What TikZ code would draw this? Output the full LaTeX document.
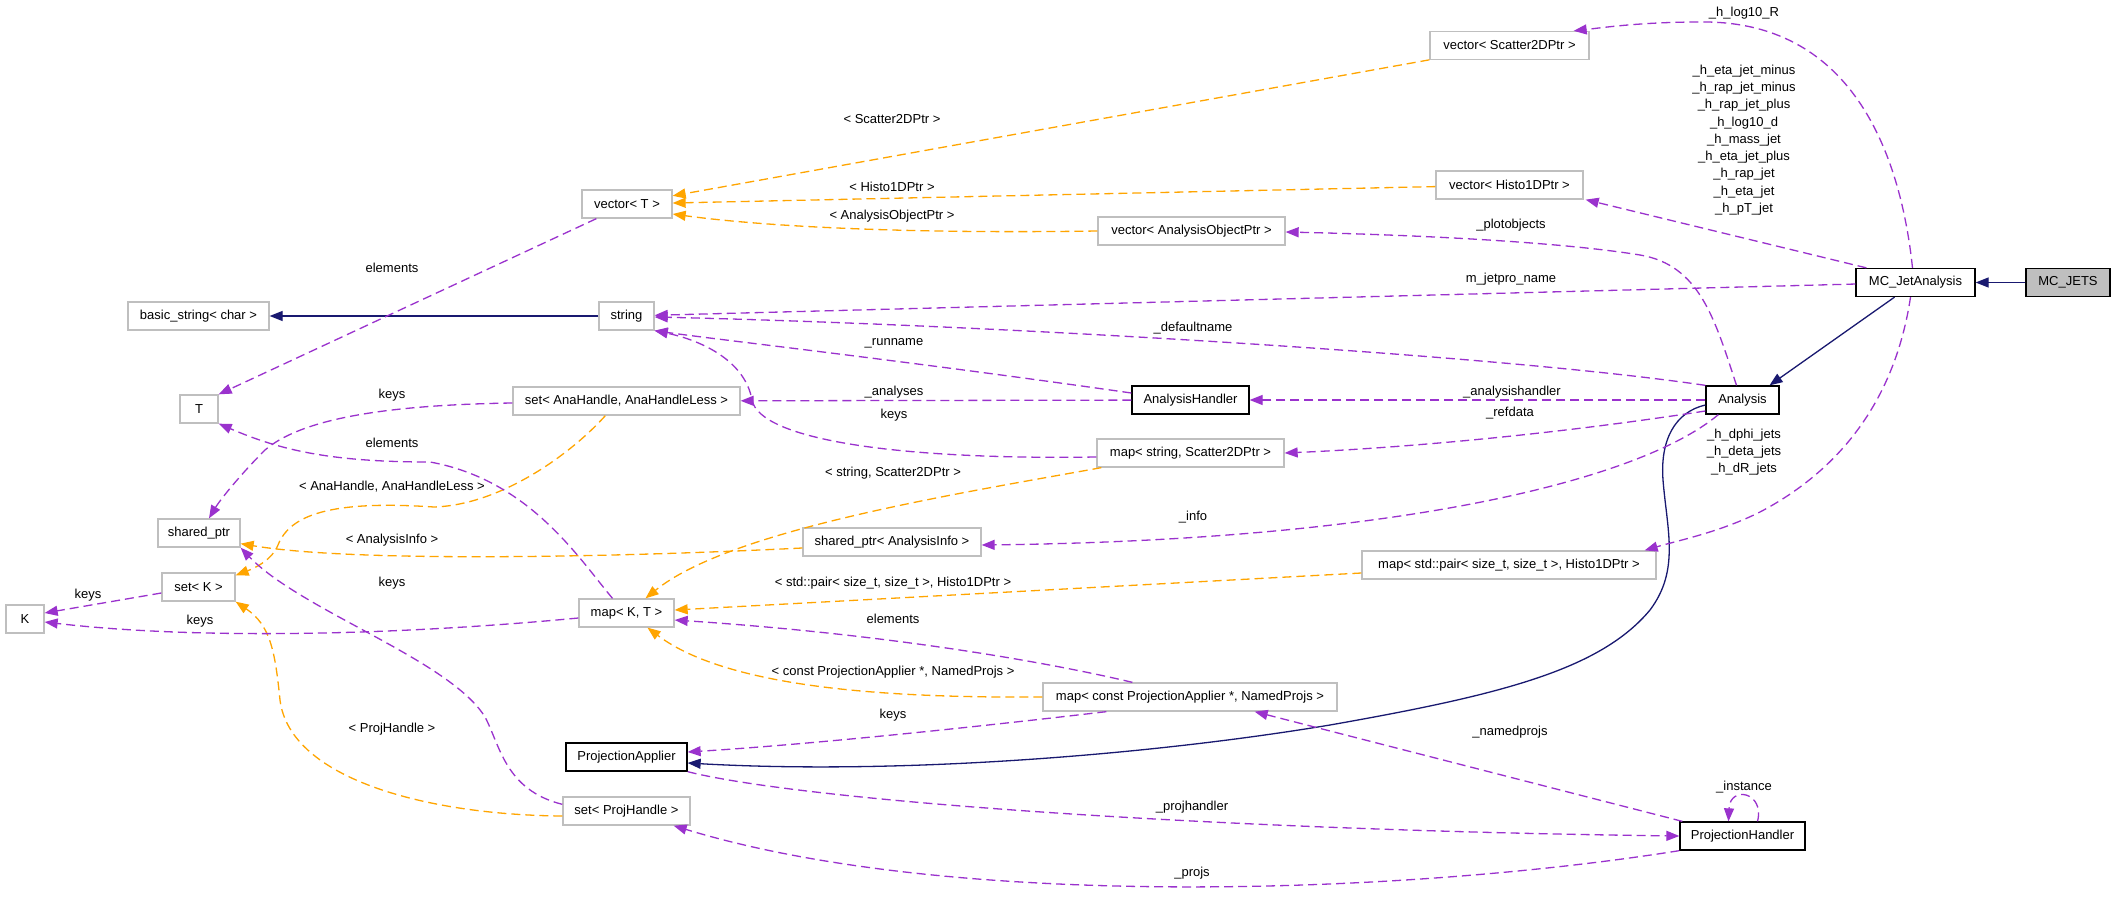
\documentclass[tikz,border=0pt]{standalone}
\usepackage{fontspec}
\setmainfont{Liberation Sans}
\usetikzlibrary{arrows.meta,calc}
\definecolor{purp}{HTML}{9A32CD}
\definecolor{orng}{HTML}{FFA500}
\definecolor{midblue}{HTML}{191970}
\definecolor{nodegray}{HTML}{BFBFBF}
\newcommand\dgfont{\fontsize{13}{17.25}\selectfont}
\tikzset{
  box/.style={draw=nodegray, line width=1.3pt, minimum height=28pt, inner sep=0pt, fill=white, font=\dgfont},
  docbox/.style={box, draw=black},
  tip/.style={-{Triangle[length=13pt,width=10pt]}},
  pu/.style={draw=purp, line width=1.3pt, dash pattern=on 9pt off 5pt, tip},
  og/.style={draw=orng, line width=1.3pt, dash pattern=on 9pt off 5pt, tip},
  inh/.style={draw=midblue, line width=1.3pt, tip},
  lab/.style={font=\dgfont, inner sep=0pt, align=center}
}
\begin{document}
\begin{tikzpicture}[x=1pt,y=-1pt]
\fill[white] (0,0) rectangle (2115,899);
\useasboundingbox (0,0) rectangle (2115,899);
% nodes
\node[box, minimum width=84pt, fill=nodegray, draw=black] (mcjets) at (2068,282.5) {MC\_JETS};
\node[docbox, minimum width=119pt] (mcja) at (1915.5,282.5) {MC\_JetAnalysis};
\node[docbox, minimum width=73pt] (analysis) at (1742.5,400) {Analysis};
\node[docbox, minimum width=117pt] (ah) at (1190.5,400) {AnalysisHandler};
\node[docbox, minimum width=121pt] (pa) at (626.5,757) {ProjectionApplier};
\node[docbox, minimum width=125pt] (ph) at (1742.5,836) {ProjectionHandler};
\node[box, minimum width=159pt] (vs) at (1509.5,45.5) {vector< Scatter2DPtr >};
\node[box, minimum width=147pt] (vh) at (1509.5,185) {vector< Histo1DPtr >};
\node[box, minimum width=187pt] (vao) at (1191.5,231) {vector< AnalysisObjectPtr >};
\node[box, minimum width=90pt] (vt) at (627,204) {vector< T >};
\node[box, minimum width=141pt] (bs) at (198.5,316) {basic\_string< char >};
\node[box, minimum width=55pt] (str) at (626.5,316) {string};
\node[box, minimum width=38pt] (t) at (199,409) {T};
\node[box, minimum width=227pt] (sah) at (626.5,401) {set< AnaHandle, AnaHandleLess >};
\node[box, minimum width=187pt] (mss) at (1190.5,453) {map< string, Scatter2DPtr >};
\node[box, minimum width=82pt] (sp) at (199,533) {shared\_ptr};
\node[box, minimum width=178pt] (sai) at (892,542) {shared\_ptr< AnalysisInfo >};
\node[box, minimum width=73pt] (setk) at (198.5,587) {set< K >};
\node[box, minimum width=38pt] (k) at (25,619) {K};
\node[box, minimum width=95pt] (mkt) at (626.5,613) {map< K, T >};
\node[box, minimum width=294pt] (mph) at (1509,565) {map< std::pair< size\_t, size\_t >, Histo1DPtr >};
\node[box, minimum width=294pt] (mcp) at (1190,697) {map< const ProjectionApplier *, NamedProjs >};
\node[box, minimum width=127pt] (sph) at (626.5,811) {set< ProjHandle >};

% inheritance
\draw[inh] (mcjets) -- (mcja);
\draw[inh] ($(mcja.south)+(-21,0)$) -- ($(analysis.north)+(27,0)$);
\draw[inh] ($(analysis.west)+(0,5)$) .. controls (1675,412) and (1660,440) .. (1663,480)
  .. controls (1667,530) and (1680,570) .. (1650,610)
  .. controls (1600,670) and (1500,695) .. (1330,725)
  .. controls (1150,755) and (900,775) .. ($(pa.east)+(0,6)$);
\draw[inh] (str) -- (bs);

% template instances
\draw[og] (vs) -- (vt);
\draw[og] (vh) -- (vt);
\draw[og] (vao.west) .. controls (900,234) and (760,226) .. ($(vt.east)+(0,10)$);
\draw[og] ($(sah.south west)+(93,0)$) .. controls (570,455) and (500,505) .. (434,507)
  .. controls (330,500) and (290,515) .. (278,545)
  .. controls (272,560) and (255,568) .. ($(setk.north east)+(0,3)$);
\draw[og] ($(sai.west)+(0,6)$) .. controls (600,558) and (350,562) .. ($(sp.south east)+(0,-4)$);
\draw[og] ($(mss.south west)+(5,0)$) .. controls (950,495) and (730,530) .. ($(mkt.north)+(19,0)$);
\draw[og] ($(mph.west)+(0,8)$) -- ($(mkt.east)+(0,-3)$);
\draw[og] (mcp.west) .. controls (900,698) and (730,690) .. ($(mkt.south)+(21,0)$);
\draw[og] ($(sph.west)+(0,5)$) .. controls (430,815) and (290,780) .. (280,700)
  .. controls (275,650) and (270,625) .. (setk.south east);

% usage
\draw[pu] ($(vt.south west)+(15,0)$) -- (t.north east);
\draw[pu] ($(sah.west)+(0,2)$) .. controls (380,405) and (300,420) .. (265,450)
  .. controls (240,475) and (220,500) .. ($(sp.north)+(10,0)$);
\draw[pu] ($(mkt.north)+(-14,0)$) .. controls (580,560) and (530,480) .. (430,462)
  .. controls (330,462) and (280,450) .. (t.south east);
\draw[pu] ($(setk.west)+(0,6)$) -- ($(k.east)+(0,-6)$);
\draw[pu] ($(mkt.west)+(0,5)$) .. controls (400,635) and (200,640) .. ($(k.east)+(0,3)$);
\draw[pu] ($(sph.north west)+(0,8)$) .. controls (505,790) and (500,745) .. (485,717)
  .. controls (450,660) and (300,610) .. (sp.south east);
\draw[pu] (mcja) -- (str);
\draw[pu] (analysis.north west) .. controls (1500,355) and (1000,325) .. ($(str.east)+(0,1)$);
\draw[pu] ($(ah.west)+(0,-7)$) .. controls (900,360) and (720,340) .. (str.south east);
\draw[pu] ($(mss.west)+(0,4)$) .. controls (900,460) and (760,440) .. (752,400)
  .. controls (745,360) and (700,340) .. (str.south east);
\draw[pu] (ah) -- (sah);
\draw[pu] (analysis) -- (ah);
\draw[pu] ($(analysis.west)+(0,11)$) .. controls (1550,435) and (1400,448) .. (mss.east);
\draw[pu] ($(analysis.south west)+(13,0)$) .. controls (1640,480) and (1400,540) .. ($(sai.east)+(0,3)$);
\draw[pu] ($(mcja.north)+(-3,0)$) .. controls (1900,150) and (1850,20) .. (1700,22)
  .. controls (1640,22) and (1600,28) .. ($(vs.north east)+(-16,0)$);
\draw[pu] ($(mcja.north west)+(11,0)$) -- ($(vh.south east)+(2,0)$);
\draw[pu] ($(analysis.north)+(-6,0)$) .. controls (1715,320) and (1700,265) .. (1640,255)
  .. controls (1560,242) and (1420,235) .. ($(vao.east)+(0,1)$);
\draw[pu] ($(mcja.south)+(-5,0)$) .. controls (1895,400) and (1840,470) .. (1760,512)
  .. controls (1720,532) and (1680,540) .. ($(mph.north east)+(-12,0)$);
\draw[pu] (pa.south east) .. controls (800,800) and (1200,830) .. (ph.west);
\draw[pu] (ph.south west) .. controls (1400,895) and (950,910) .. ($(sph.south east)+(-17,0)$);
\draw[pu] ($(ph.north west)+(3,0)$) -- ($(mcp.south east)+(-83,0)$);
\draw[pu] ($(mcp.north west)+(90,0)$) .. controls (1060,665) and (900,635) .. ($(mkt.east)+(0,7)$);
\draw[pu] ($(mcp.south west)+(64,0)$) .. controls (950,730) and (800,745) .. ($(pa.east)+(0,-5)$);
\draw[pu] ($(ph.north)+(15,0)$) .. controls (1765,792) and (1730,785) .. ($(ph.north)+(-14,0)$);

% labels
\node[lab] (l1) at (892,119) {< Scatter2DPtr >};
\node[lab] (l2) at (892,187) {< Histo1DPtr >};
\node[lab] (l3) at (892,216) {< AnalysisObjectPtr >};
\node[lab] (l4) at (392,268) {elements};
\node[lab] (l5) at (392,395) {keys};
\node[lab] (l6) at (392,443) {elements};
\node[lab] (l7) at (392,487) {< AnaHandle, AnaHandleLess >};
\node[lab] (l8) at (392,540) {< AnalysisInfo >};
\node[lab] (l9) at (392,583) {keys};
\node[lab] (l10) at (88,595) {keys};
\node[lab] (l11) at (200,621) {keys};
\node[lab] (l12) at (392,729) {< ProjHandle >};
\node[lab] (l13) at (1511,279) {m\_jetpro\_name};
\node[lab] (l14) at (1193,328) {\_defaultname};
\node[lab] (l15) at (894,343) {\_runname};
\node[lab] (l16) at (894,392) {\_analyses};
\node[lab] (l17) at (894,415) {keys};
\node[lab] (l18) at (1512,392) {\_analysishandler};
\node[lab] (l19) at (1510,413) {\_refdata};
\node[lab] (l20) at (893,473) {< string, Scatter2DPtr >};
\node[lab] (l21) at (1193,517) {\_info};
\node[lab] (l22) at (893,583) {< std::pair< size\_t, size\_t >, Histo1DPtr >};
\node[lab] (l23) at (893,619) {elements};
\node[lab] (l24) at (893,672) {< const ProjectionApplier *, NamedProjs >};
\node[lab] (l25) at (893,715) {keys};
\node[lab] (l26) at (1510,732) {\_namedprojs};
\node[lab] (l27) at (1192,807) {\_projhandler};
\node[lab] (l28) at (1192,873) {\_projs};
\node[lab] (l29) at (1744,787) {\_instance};
\node[lab] (l30) at (1744,13) {\_h\_log10\_R};
\node[lab] (l31) at (1744,140) {\_h\_eta\_jet\_minus\\\_h\_rap\_jet\_minus\\\_h\_rap\_jet\_plus\\\_h\_log10\_d\\\_h\_mass\_jet\\\_h\_eta\_jet\_plus\\\_h\_rap\_jet\\\_h\_eta\_jet\\\_h\_pT\_jet};
\node[lab] (l32) at (1744,452) {\_h\_dphi\_jets\\\_h\_deta\_jets\\\_h\_dR\_jets};
\node[lab] (l33) at (1511,225) {\_plotobjects};
\end{tikzpicture}
\end{document}
